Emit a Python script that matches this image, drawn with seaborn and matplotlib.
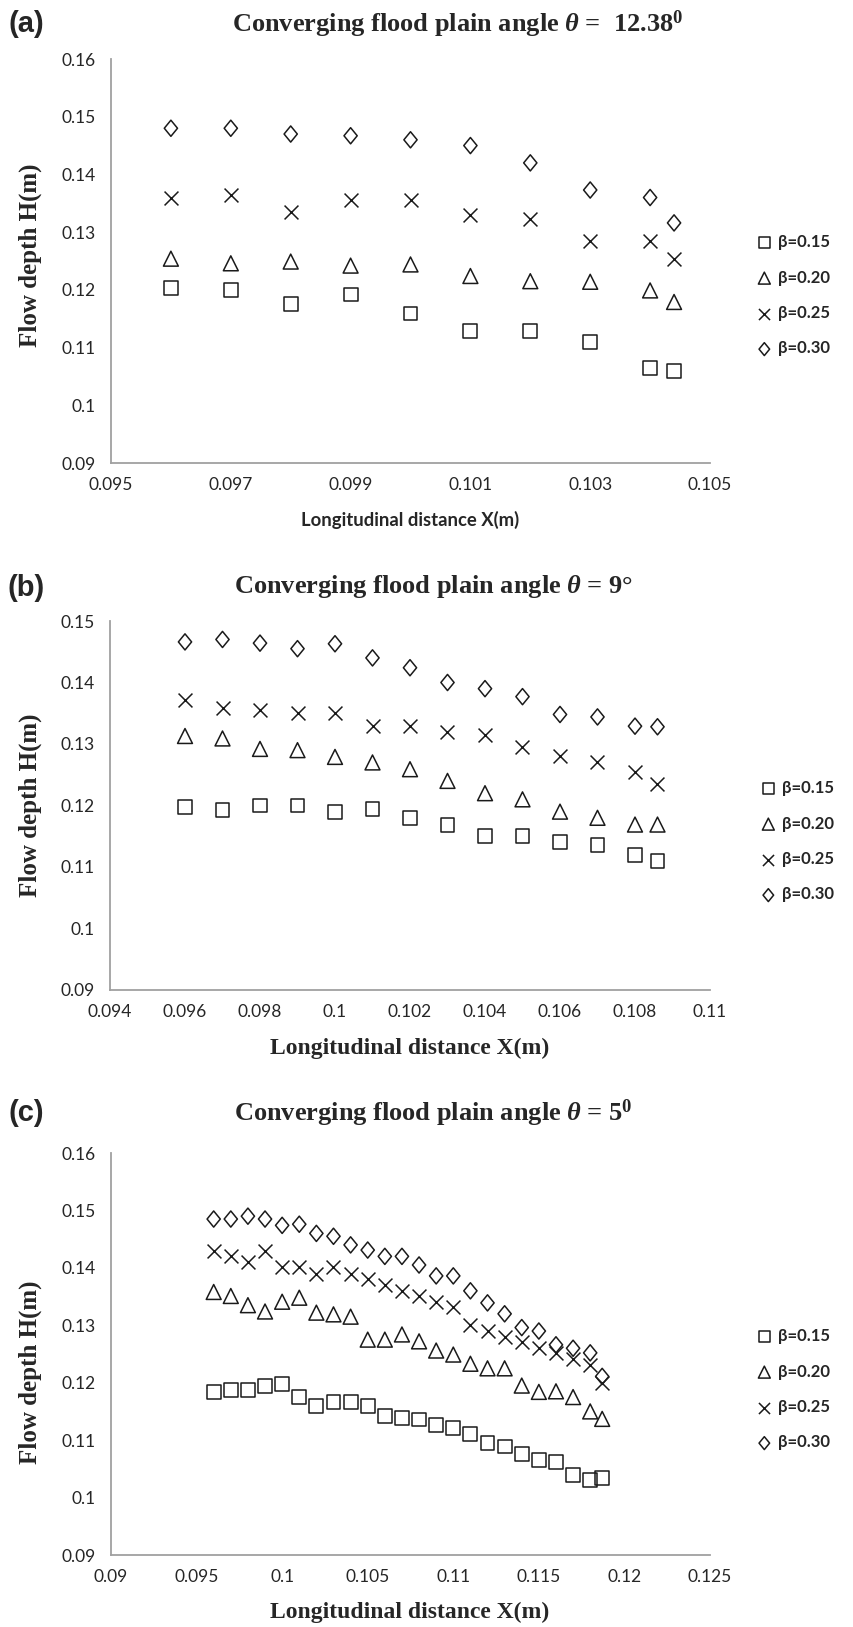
import numpy as np
import pandas as pd
import matplotlib
matplotlib.use("Agg")
import matplotlib.pyplot as plt
from matplotlib.path import Path
from matplotlib.ticker import FixedLocator, FuncFormatter
import seaborn as sns

# ---------------- data ----------------
beta_labels = ["β=0.15", "β=0.20", "β=0.25", "β=0.30"]

# (a) converging angle 12.38 deg
x_a = [0.096, 0.097, 0.098, 0.099, 0.100, 0.101, 0.102, 0.103, 0.104, 0.1044]
h_a_015 = [0.1203, 0.1199, 0.1176, 0.1192, 0.1159, 0.1129, 0.1129, 0.1109, 0.1064, 0.1059]
h_a_020 = [0.1254, 0.1246, 0.1249, 0.1242, 0.1244, 0.1224, 0.1215, 0.1214, 0.1199, 0.1179]
h_a_025 = [0.1359, 0.1364, 0.1335, 0.1356, 0.1356, 0.1329, 0.1322, 0.1284, 0.1284, 0.1254]
h_a_030 = [0.1480, 0.1480, 0.1470, 0.1467, 0.1460, 0.1450, 0.1420, 0.1373, 0.1360, 0.1316]

# (b) converging angle 9 deg
x_b = [0.096, 0.097, 0.098, 0.099, 0.100, 0.101, 0.102, 0.103, 0.104, 0.105,
       0.106, 0.107, 0.108, 0.1086]
h_b_015 = [0.1198, 0.1193, 0.1200, 0.1200, 0.1190, 0.1195, 0.1180, 0.1169, 0.1150, 0.1150,
           0.1140, 0.1136, 0.1120, 0.1110]
h_b_020 = [0.1313, 0.1309, 0.1292, 0.1290, 0.1279, 0.1270, 0.1259, 0.1240, 0.1220, 0.1210,
           0.1190, 0.1180, 0.1169, 0.1169]
h_b_025 = [0.1371, 0.1359, 0.1355, 0.1350, 0.1350, 0.1330, 0.1330, 0.1320, 0.1314, 0.1295,
           0.1281, 0.1270, 0.1254, 0.1235]
h_b_030 = [0.1466, 0.1470, 0.1464, 0.1455, 0.1463, 0.1440, 0.1424, 0.1400, 0.1390, 0.1377,
           0.1348, 0.1344, 0.1329, 0.1328]

# (c) converging angle 5 deg
x_c = [0.096, 0.097, 0.098, 0.099, 0.100, 0.101, 0.102, 0.103, 0.104, 0.105,
       0.106, 0.107, 0.108, 0.109, 0.110, 0.111, 0.112, 0.113, 0.114, 0.115,
       0.116, 0.117, 0.118, 0.1187]
h_c_015 = [0.1184, 0.1187, 0.1188, 0.1194, 0.1197, 0.1175, 0.1160, 0.1166, 0.1166, 0.1160,
           0.1142, 0.1139, 0.1136, 0.1126, 0.1121, 0.1110, 0.1095, 0.1089, 0.1076, 0.1066,
           0.1062, 0.1040, 0.1030, 0.1034]
h_c_020 = [0.1358, 0.1351, 0.1335, 0.1324, 0.1341, 0.1348, 0.1322, 0.1319, 0.1315, 0.1275,
           0.1275, 0.1284, 0.1272, 0.1256, 0.1249, 0.1233, 0.1225, 0.1225, 0.1195, 0.1184,
           0.1185, 0.1175, 0.1150, 0.1137]
h_c_025 = [0.1430, 0.1420, 0.1410, 0.1430, 0.1401, 0.1401, 0.1390, 0.1401, 0.1389, 0.1380,
           0.1370, 0.1360, 0.1351, 0.1341, 0.1331, 0.1301, 0.1290, 0.1280, 0.1271, 0.1260,
           0.1251, 0.1241, 0.1231, 0.1199]
h_c_030 = [0.1485, 0.1485, 0.1490, 0.1485, 0.1474, 0.1476, 0.1460, 0.1455, 0.1440, 0.1431,
           0.1420, 0.1420, 0.1405, 0.1386, 0.1386, 0.1360, 0.1339, 0.1320, 0.1296, 0.1290,
           0.1266, 0.1260, 0.1252, 0.1211]

xticks_a = [0.095, 0.097, 0.099, 0.101, 0.103, 0.105]
xticks_b = [0.094, 0.096, 0.098, 0.100, 0.102, 0.104, 0.106, 0.108, 0.110]
xticks_c = [0.090, 0.095, 0.100, 0.105, 0.110, 0.115, 0.120, 0.125]
yticks_a = [0.09, 0.10, 0.11, 0.12, 0.13, 0.14, 0.15, 0.16]
yticks_b = [0.09, 0.10, 0.11, 0.12, 0.13, 0.14, 0.15]
yticks_c = [0.09, 0.10, 0.11, 0.12, 0.13, 0.14, 0.15, 0.16]

titles = [r"Converging flood plain angle $\theta$ =  12.38$^{0}$",
          r"Converging flood plain angle $\theta$ = 9°",
          r"Converging flood plain angle $\theta$ = 5$^{0}$"]
panel_tags = ["(a)", "(b)", "(c)"]

# ---------------- style ----------------
sns.set_style("white")
plt.rcParams["font.family"] = ["Lato", "DejaVu Sans"]
plt.rcParams["mathtext.fontset"] = "custom"
plt.rcParams["mathtext.rm"] = "Liberation Serif:bold"
plt.rcParams["mathtext.bf"] = "Liberation Serif:bold"
plt.rcParams["mathtext.it"] = "Liberation Serif:italic:bold"

W, H = 854, 1627
fig = plt.figure(figsize=(W / 100, H / 100), dpi=100)
fig.patch.set_facecolor("white")

INK = "#1a1a1a"
AXIS_GREY = "#a0a0a0"
TICK_FONT = ["Lato", "DejaVu Sans"]
SERIF = ["Liberation Serif", "DejaVu Serif"]

diamond = Path([(0, 1), (0.82, 0), (0, -1), (-0.82, 0), (0, 1)], closed=True)
marker_set = [("s", 100, True), ("^", 115, True), ("x", 100, False), (diamond, 135, True)]


def px_rect(left, top, right, bottom):
    return [left / W, 1 - bottom / H, (right - left) / W, (bottom - top) / H]


def fmt(v, _pos=None):
    return f"{round(v, 4):g}"


def draw_panel(rect, x, series, xlim, ylim, xticks, yticks):
    ax = fig.add_axes(px_rect(*rect))
    for (mk, size, filled), h, lab in zip(marker_set, series, beta_labels):
        df = pd.DataFrame({"X": x, "H": h})
        if filled:
            sns.scatterplot(data=df, x="X", y="H", ax=ax, marker=mk, s=size,
                            color=INK, facecolor="none", edgecolor=INK,
                            linewidth=1.1, label=lab, legend=False, zorder=3)
        else:
            sns.scatterplot(data=df, x="X", y="H", ax=ax, marker=mk, s=size,
                            color=INK, linewidth=1.1, label=lab, legend=False,
                            zorder=3)
    ax.set_xlim(*xlim)
    ax.set_ylim(*ylim)
    ax.xaxis.set_major_locator(FixedLocator(xticks))
    ax.yaxis.set_major_locator(FixedLocator(yticks))
    ax.xaxis.set_major_formatter(FuncFormatter(fmt))
    ax.yaxis.set_major_formatter(FuncFormatter(fmt))
    for side in ("top", "right"):
        ax.spines[side].set_visible(False)
    for side in ("left", "bottom"):
        ax.spines[side].set_color(AXIS_GREY)
        ax.spines[side].set_linewidth(1.3)
    ax.tick_params(axis="both", which="major", direction="out", length=4,
                   width=1.0, color=AXIS_GREY, labelsize=12.5, labelcolor="#262626")
    ax.tick_params(axis="x", pad=6)
    ax.tick_params(axis="y", pad=7)
    for lbl in ax.get_xticklabels() + ax.get_yticklabels():
        lbl.set_fontfamily(TICK_FONT)
    ax.set_xlabel("")
    ax.set_ylabel("")
    ax.set_facecolor("white")
    return ax


def add_legend(ax, left_px, top_px):
    handles = ax.collections[:4]
    fig.legend(handles, beta_labels, loc="upper left",
               bbox_to_anchor=(left_px / W, 1 - top_px / H),
               bbox_transform=fig.transFigure, frameon=False,
               prop=dict(family=TICK_FONT, weight="bold", size=12),
               handlelength=1.0, handletextpad=0.3, labelspacing=1.17,
               borderpad=0, borderaxespad=0, markerscale=0.8, scatterpoints=1)


# ---------------- panel (a) ----------------
ax_a = draw_panel((111, 59, 710, 463), x_a, [h_a_015, h_a_020, h_a_025, h_a_030],
                  (0.095, 0.105), (0.09, 0.16), xticks_a, yticks_a)
add_legend(ax_a, 756, 234)

# ---------------- panel (b) ----------------
ax_b = draw_panel((110, 621, 710, 990), x_b, [h_b_015, h_b_020, h_b_025, h_b_030],
                  (0.094, 0.110), (0.09, 0.15), xticks_b, yticks_b)
add_legend(ax_b, 760, 780)

# ---------------- panel (c) ----------------
ax_c = draw_panel((111, 1153, 710, 1555), x_c, [h_c_015, h_c_020, h_c_025, h_c_030],
                  (0.090, 0.125), (0.09, 0.16), xticks_c, yticks_c)
add_legend(ax_c, 756, 1328)

# ---------------- titles and labels ----------------
tag_y = [24, 588, 1113]
title_pos = [(458, 24), (434, 587), (433, 1113)]
for tag, ty, (tx, tty), title in zip(panel_tags, tag_y, title_pos, titles):
    fig.text(26 / W, 1 - ty / H, tag, ha="center", va="center",
             family=["Liberation Sans", "DejaVu Sans"], weight="bold", size=21)
    fig.text(tx / W, 1 - tty / H, title, ha="center", va="center",
             family=SERIF, weight="bold", size=19)

# y labels
for yc in (255, 805, 1372):
    fig.text(30 / W, 1 - yc / H, "Flow depth H(m)", ha="center", va="center",
             rotation=90, family=SERIF, weight="bold", size=18)

# x labels
fig.text(410 / W, 1 - 520 / H, "Longitudinal distance X(m)", ha="center", va="center",
         family=TICK_FONT, weight="bold", size=13.3)
fig.text(410 / W, 1 - 1048 / H, "Longitudinal distance X(m)", ha="center", va="center",
         family=SERIF, weight="bold", size=17)
fig.text(410 / W, 1 - 1612 / H, "Longitudinal distance X(m)", ha="center", va="center",
         family=SERIF, weight="bold", size=17)

fig.savefig("out.png", dpi=100, facecolor="white")
